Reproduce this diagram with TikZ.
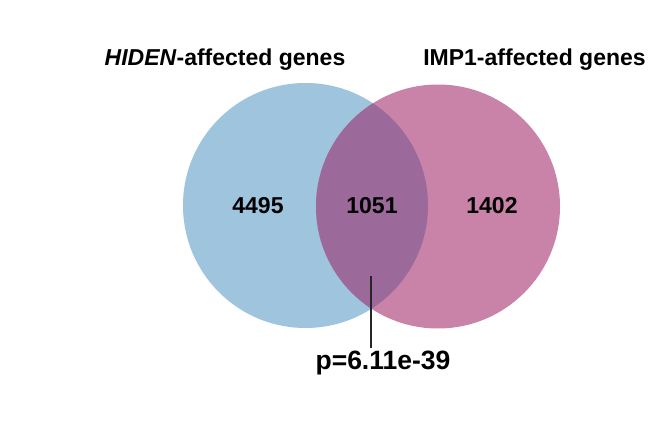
\documentclass[tikz,border=0pt]{standalone}
\usepackage{fontspec}
\setmainfont{Liberation Sans}
\definecolor{vblue}{RGB}{158,196,222}
\definecolor{vpink}{RGB}{201,131,168}
\definecolor{vmix}{RGB}{155,106,155}
\begin{document}
\begin{tikzpicture}[x=1pt,y=-1pt,
  lbl/.style={anchor=base,inner sep=0pt,font=\fontsize{23}{26}\selectfont\bfseries},
  num/.style={anchor=base,inner sep=0pt,font=\fontsize{23}{26}\selectfont\bfseries},
  pval/.style={anchor=base,inner sep=0pt,font=\fontsize{26.5}{30}\selectfont\bfseries}]
\useasboundingbox[fill=white] (0,0) rectangle (672,430);
\coordinate (cl) at (305.5,205.5);
\coordinate (cr) at (438,206.5);
\fill[vblue] (cl) circle[radius=122.5];
\fill[vpink] (cr) circle[radius=122];
\begin{scope}
  \clip (cl) circle[radius=122.5];
  \fill[vmix] (cr) circle[radius=122];
\end{scope}
\node[lbl] (tl) at (225,66) {\textit{HIDEN}-affected genes};
\node[lbl] (tr) at (534.5,66) {IMP1-affected genes};
\node[num] (nl) at (258,214) {4495};
\node[num] (nm) at (372,214) {1051};
\node[num] (nr) at (492,214) {1402};
\node[pval] (pv) at (383,369.3) {p=6.11e-39};
\coordinate (lt) at (371,276);
\coordinate (lb) at (371,348);
\draw[line width=2pt,black!85] (lt) -- (lb);
\end{tikzpicture}
\end{document}
